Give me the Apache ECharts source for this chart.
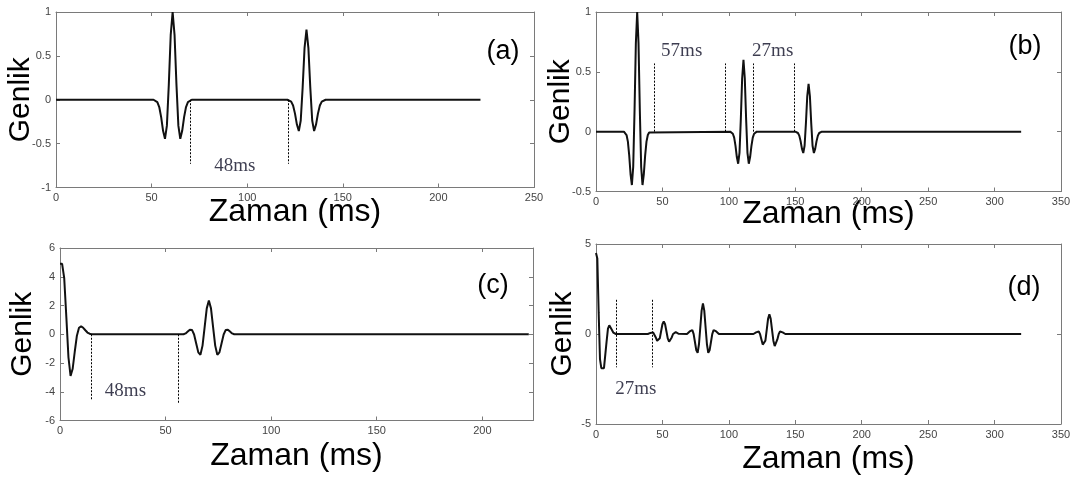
<!DOCTYPE html>
<html>
<head>
<meta charset="utf-8">
<title>Genlik / Zaman</title>
<script src="https://cdn.jsdelivr.net/npm/echarts@6/dist/echarts.min.js"></script>
<style>
    html, body { margin: 0; padding: 0; background: #fff; }
    #main { width: 1075px; height: 478px; }
</style>
</head>
<body>
<div id="main"></div>
<script>
(function () {
    'use strict';

    // tick labels
    var xTicksA = [0, 50, 100, 150, 200, 250];
    var xTicksB = [0, 50, 100, 150, 200, 250, 300, 350];
    var xTicksC = [0, 50, 100, 150, 200];
    var xTicksD = [0, 50, 100, 150, 200, 250, 300, 350];
    var xMaxC = 224;
    var yTicksA = [-1, -0.5, 0, 0.5, 1];
    var yTicksB = [-0.5, 0, 0.5, 1];
    var yTicksC = [-6, -4, -2, 0, 2, 4, 6];
    var yTicksD = [-5, 0, 5];

    // pulses: [start time (ms), amplitudes sampled every 1 ms]
    var pulsesA = [
        [51, [0, -0.007, -0.028, -0.083, -0.198, -0.354, -0.446, -0.295, 0.172, 0.740, 1.0, 0.740, 0.172, -0.295, -0.446, -0.354, -0.198, -0.083, -0.028, -0.007, 0]],
        [121, [0, -0.006, -0.022, -0.066, -0.158, -0.283, -0.357, -0.236, 0.138, 0.592, 0.8, 0.592, 0.138, -0.236, -0.357, -0.283, -0.158, -0.066, -0.022, -0.006, 0]]
    ];
    var pulsesB = [
        [21, [0, -0.007, -0.028, -0.083, -0.198, -0.354, -0.446, -0.295, 0.172, 0.740, 1.0, 0.740, 0.172, -0.295, -0.446, -0.354, -0.198, -0.083, -0.028, -0.007, 0]],
        [101, [0, -0.004, -0.017, -0.050, -0.119, -0.212, -0.268, -0.177, 0.103, 0.444, 0.6, 0.444, 0.103, -0.177, -0.268, -0.212, -0.119, -0.050, -0.017, -0.004, 0]],
        [150, [0, -0.003, -0.011, -0.033, -0.079, -0.142, -0.178, -0.118, 0.069, 0.296, 0.4, 0.296, 0.069, -0.118, -0.178, -0.142, -0.079, -0.033, -0.011, -0.003, 0]]
    ];
    var pulsesC = [
        [0, [4.9, 4.9, 3.9, 1.2, -1.6, -2.9, -2.4, -1.2, -0.1, 0.45, 0.55, 0.45, 0.28, 0.12, 0.04, 0]],
        [58.5, [0, 0.06, 0.19, 0.32, 0.30, -0.02, -0.64, -1.26, -1.43, -0.79, 0.49, 1.80, 2.35, 1.80, 0.49, -0.79, -1.43, -1.26, -0.64, -0.02, 0.30, 0.32, 0.19, 0.06, 0]]
    ];
    var pulsesD = [
        [0, [4.5, 4.2, 1.2, -1.4, -1.9, -1.9, -1.9, -1.9, -0.4, 0.3, 0.48, 0.4, 0.22, 0.08, 0.02, 0]],
        [39, [0, 0.02, 0.06, 0.10, 0.09, 0, -0.19, -0.38, -0.43, -0.24, 0.15, 0.54, 0.70, 0.54, 0.15, -0.24, -0.43, -0.38, -0.19, 0, 0.09, 0.10, 0.06, 0.02, 0]],
        [68.5, [0, 0.04, 0.14, 0.23, 0.22, -0.01, -0.46, -0.91, -1.04, -0.57, 0.36, 1.30, 1.70, 1.30, 0.36, -0.57, -1.04, -0.91, -0.46, -0.01, 0.22, 0.23, 0.14, 0.04, 0]],
        [118.5, [0, 0.03, 0.09, 0.15, 0.14, -0.01, -0.30, -0.59, -0.67, -0.37, 0.23, 0.84, 1.10, 0.84, 0.23, -0.37, -0.67, -0.59, -0.30, -0.01, 0.14, 0.15, 0.09, 0.03, 0]]
    ];
    var traceEnd = [222, 320, 222, 320];

    // dotted guides: [time, from, to]
    var guidesA = [[70, 0, -0.73], [121.5, 0, -0.73]];
    var guidesB = [[43.5, 0, 0.57], [97.5, 0, 0.57], [118.5, 0, 0.57], [149.5, 0, 0.57]];
    var guidesC = [[15, 0, -4.55], [56, 0, -4.8]];
    var guidesD = [[15, 1.9, -1.85], [42.5, 1.9, -1.85]];

    // interval notes: [text, time, amplitude]
    var notesA = [['48ms', 93.5, -0.75]];
    var notesB = [['57ms', 64.5, 0.67], ['27ms', 133, 0.67]];
    var notesC = [['48ms', 31, -3.95]];
    var notesD = [['27ms', 30, -3.05]];

    var panelNames = ['(a)', '(b)', '(c)', '(d)'];

    function buildTrace(pulses, end) {
        var pts = [];
        pulses.forEach(function (p) {
            if (pts.length === 0 && p[0] > 0) {
                pts.push([0, 0]);
            }
            p[1].forEach(function (v, i) {
                pts.push([p[0] + i, v]);
            });
        });
        pts.push([end, 0]);
        return pts;
    }

    var panels = [
        { pulses: pulsesA, xTicks: xTicksA, xMax: 250, yTicks: yTicksA, guides: guidesA, notes: notesA,
          grid: { left: 56, top: 12, width: 478, height: 175.5 }, xGap: 8.5, yGap: 20, label: [503, 52] },
        { pulses: pulsesB, xTicks: xTicksB, xMax: 350, yTicks: yTicksB, guides: guidesB, notes: notesB,
          grid: { left: 596, top: 12, width: 465, height: 179.5 }, xGap: 7, yGap: 20, label: [1025, 47] },
        { pulses: pulsesC, xTicks: xTicksC, xMax: xMaxC, yTicks: yTicksC, guides: guidesC, notes: notesC,
          grid: { left: 60, top: 248, width: 473, height: 172.5 }, xGap: 20, yGap: 22, label: [493, 286] },
        { pulses: pulsesD, xTicks: xTicksD, xMax: 350, yTicks: yTicksD, guides: guidesD, notes: notesD,
          grid: { left: 596, top: 244, width: 465, height: 180 }, xGap: 19, yGap: 18, label: [1024, 288] }
    ];

    var boxColor = '#7a7a7a';
    var tickFont = { fontFamily: 'Liberation Sans', fontSize: 11, color: '#444' };
    var titleFont = { fontFamily: 'Liberation Sans', color: '#000' };

    var grids = [], xAxes = [], yAxes = [], series = [], graphics = [];

    panels.forEach(function (p, i) {
        var g = p.grid;
        grids.push({ left: g.left, top: g.top, width: g.width, height: g.height,
            outerBoundsMode: 'none', containLabel: false, show: false });

        var xt = p.xTicks, yt = p.yTicks;
        var xBase = {
            type: 'value', gridIndex: i, min: xt[0], max: p.xMax, interval: xt[1] - xt[0],
            splitLine: { show: false },
            axisLine: { show: true, onZero: false, lineStyle: { color: boxColor, width: 1 } },
            axisTick: { show: true, inside: true, length: 4, lineStyle: { color: boxColor } }
        };
        var yBase = {
            type: 'value', gridIndex: i, min: yt[0], max: yt[yt.length - 1], interval: yt[1] - yt[0],
            splitLine: { show: false },
            axisLine: { show: true, onZero: false, lineStyle: { color: boxColor, width: 1 } },
            axisTick: { show: true, inside: true, length: 4, lineStyle: { color: boxColor } }
        };

        xAxes.push(Object.assign({}, xBase, {
            position: 'bottom',
            name: 'Zaman (ms)', nameLocation: 'middle', nameGap: p.xGap, nameMoveOverlap: false,
            nameTextStyle: Object.assign({ fontSize: 32 }, titleFont),
            axisLabel: Object.assign({
                show: true, margin: 5,
                formatter: function (v) { return xt.indexOf(v) >= 0 ? String(v) : ''; }
            }, tickFont)
        }));
        xAxes.push(Object.assign({}, xBase, { position: 'top', axisLabel: { show: false } }));

        yAxes.push(Object.assign({}, yBase, {
            position: 'left',
            name: 'Genlik', nameLocation: 'middle', nameRotate: 90, nameGap: p.yGap, nameMoveOverlap: false,
            nameTextStyle: Object.assign({ fontSize: 30 }, titleFont),
            axisLabel: Object.assign({ show: true, margin: 5 }, tickFont)
        }));
        yAxes.push(Object.assign({}, yBase, { position: 'right', axisLabel: { show: false } }));

        series.push({
            type: 'line',
            xAxisIndex: 2 * i,
            yAxisIndex: 2 * i,
            data: buildTrace(p.pulses, traceEnd[i]),
            symbol: 'none',
            animation: false,
            lineStyle: { color: '#111', width: 2 },
            markLine: {
                silent: true,
                symbol: ['none', 'none'],
                label: { show: false },
                animation: false,
                lineStyle: { color: '#000', type: [2, 1.5], width: 1 },
                data: p.guides.map(function (d) {
                    return [{ coord: [d[0], d[1]] }, { coord: [d[0], d[2]] }];
                })
            }
        });

        series.push({
            type: 'scatter',
            xAxisIndex: 2 * i,
            yAxisIndex: 2 * i,
            silent: true,
            animation: false,
            symbolSize: 1,
            itemStyle: { color: 'rgba(0,0,0,0)' },
            data: p.notes.map(function (n) {
                return { name: n[0], value: [n[1], n[2]] };
            }),
            label: {
                show: true, position: 'inside', formatter: '{b}',
                fontFamily: 'Liberation Serif', fontSize: 19, color: '#0c0c24'
            }
        });

        graphics.push({
            type: 'text', x: p.label[0], y: p.label[1],
            style: {
                text: panelNames[i], fontFamily: 'Liberation Sans', fontSize: 27, fill: '#000',
                align: 'center', verticalAlign: 'middle', textAlign: 'center', textVerticalAlign: 'middle'
            }
        });
    });

    var chart = echarts.init(document.getElementById('main'));
    chart.setOption({
        backgroundColor: '#fff',
        animation: false,
        grid: grids,
        xAxis: xAxes,
        yAxis: yAxes,
        series: series,
        graphic: graphics
    });
})();
</script>
</body>
</html>
